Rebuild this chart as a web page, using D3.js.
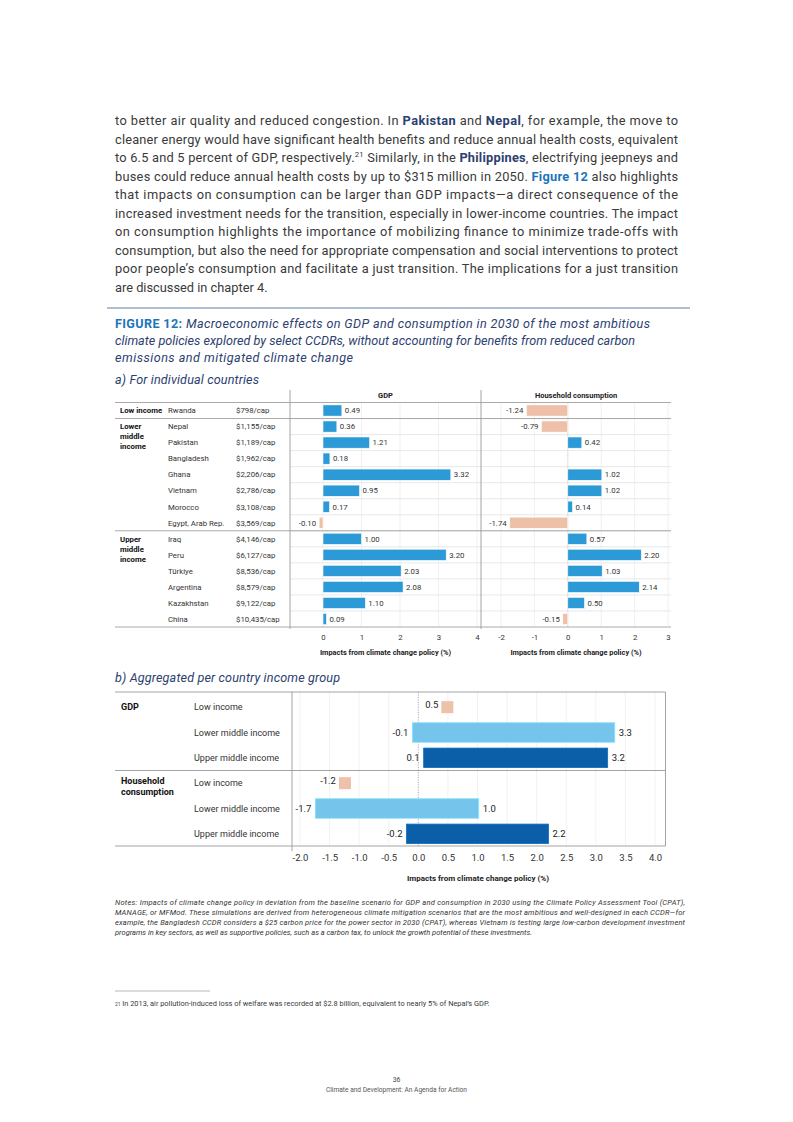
<!DOCTYPE html>
<html>
<head>
<meta charset="utf-8">
<script src="https://cdn.jsdelivr.net/npm/d3@7"></script>
<style>
  body { margin: 0; background: #fff; }
  svg { display: block; }
</style>
</head>
<body>
<script>
// ---- panel a data (per country) ----
const countries = ["Rwanda", "Nepal", "Pakistan", "Bangladesh", "Ghana", "Vietnam", "Morocco",
  "Egypt, Arab Rep.", "Iraq", "Peru", "Türkiye", "Argentina", "Kazakhstan", "China"];
const incomePerCap = ["$798/cap", "$1,155/cap", "$1,189/cap", "$1,962/cap", "$2,206/cap", "$2,786/cap",
  "$3,108/cap", "$3,569/cap", "$4,146/cap", "$6,127/cap", "$8,536/cap", "$8,579/cap", "$9,122/cap", "$10,435/cap"];
const gdpImpact = [0.49, 0.36, 1.21, 0.18, 3.32, 0.95, 0.17, -0.10, 1.00, 3.20, 2.03, 2.08, 1.10, 0.09];
const hhImpact = [-1.24, -0.79, 0.42, null, 1.02, 1.02, 0.14, -1.74, 0.57, 2.20, 1.03, 2.14, 0.50, -0.15];
const groupNames = [["Low income"], ["Lower", "middle", "income"], ["Upper", "middle", "income"]];
const groupStart = [0, 1, 8];
const gdpTicks = [0, 1, 2, 3, 4];
const hhTicks = [-2, -1, 0, 1, 2, 3];

// ---- panel b data (aggregated) ----
const aggGroups = ["Low income", "Lower middle income", "Upper middle income"];
const aggGdpLow = [0.49, -0.10, 0.09];
const aggGdpHigh = [null, 3.32, 3.20];
const aggHhLow = [-1.24, -1.74, -0.2];
const aggHhHigh = [null, 1.02, 2.20];
const aggColors = ["#eec1a9", "#74c4ec", "#0b5fa9"];
const aggTicks = [-2, -1.5, -1, -0.5, 0, 0.5, 1, 1.5, 2, 2.5, 3, 3.5, 4];

const W = 793, H = 1122;
const FONT = "Roboto, 'Open Sans', sans-serif";
const TXT = "#3a3a3a", NAVY = "#2c4170", BLUE = "#1b75bb";

const svg = d3.select("body").append("svg")
  .attr("width", W).attr("height", H)
  .style("font-family", FONT);

// write one line of mixed text; width => justify via textLength
function line(x, y, segs, size, width, anchor) {
  const t = svg.append("text")
    .attr("x", x).attr("y", y)
    .attr("font-size", size)
    .attr("fill", TXT)
    .attr("text-anchor", anchor || "start");
  if (width) t.attr("textLength", width).attr("lengthAdjust", "spacing");
  segs.forEach(s => {
    if (typeof s === "string") s = { t: s };
    const ts = t.append("tspan").text(s.t);
    if (s.b) ts.attr("font-weight", "bold");
    if (s.i) ts.attr("font-style", "italic");
    if (s.c) ts.attr("fill", s.c);
    if (s.sup) ts.attr("font-size", size * 0.6).attr("dy", -5);
    if (s.down) ts.attr("dy", 5);
  });
  return t;
}

// ---- body paragraph ----
const bodyW = 563, bx = 115;
const para = [
  ["to better air quality and reduced congestion. In ", { t: "Pakistan", b: 1, c: NAVY }, " and ", { t: "Nepal", b: 1, c: NAVY }, ", for example, the move to"],
  ["cleaner energy would have significant health benefits and reduce annual health costs, equivalent"],
  ["to 6.5 and 5 percent of GDP, respectively.", { t: "21", sup: 1 }, { t: " Similarly, in the ", down: 1 }, { t: "Philippines", b: 1, c: NAVY }, ", electrifying jeepneys and"],
  ["buses could reduce annual health costs by up to $315 million in 2050. ", { t: "Figure 12", b: 1, c: BLUE }, " also highlights"],
  ["that impacts on consumption can be larger than GDP impacts\u2014a direct consequence of the"],
  ["increased investment needs for the transition, especially in lower-income countries. The impact"],
  ["on consumption highlights the importance of mobilizing finance to minimize trade-offs with"],
  ["consumption, but also the need for appropriate compensation and social interventions to protect"],
  ["poor people\u2019s consumption and facilitate a just transition. The implications for a just transition"],
  ["are discussed in chapter 4."]
];
para.forEach((segs, i) => {
  line(bx, 125 + i * 18.5, segs, 12.8, i < para.length - 1 ? bodyW : null);
});

svg.append("line").attr("x1", 107).attr("x2", 690).attr("y1", 308).attr("y2", 308)
  .attr("stroke", "#5f7fa3").attr("stroke-width", 1);

// ---- figure title ----
line(115, 328, [{ t: "FIGURE 12: ", b: 1, c: BLUE }, { t: "Macroeconomic effects on GDP and consumption in 2030 of the most ambitious", i: 1, c: NAVY }], 12.6, 535);
line(115, 345, [{ t: "climate policies explored by select CCDRs, without accounting for benefits from reduced carbon", i: 1, c: NAVY }], 12.6, 520);
line(115, 362, [{ t: "emissions and mitigated climate change", i: 1, c: NAVY }], 12.6, 238);
line(115, 384, [{ t: "a) For individual countries", i: 1, c: NAVY }], 12.6, 144);

// ================= panel a =================
const yA = d3.scaleBand().domain(d3.range(countries.length)).range([402.5, 627])
  .paddingInner(0.3).paddingOuter(0.15);
const stepA = yA.step();
const rowC = i => yA(i) + yA.bandwidth() / 2;
const xG = d3.scaleLinear().domain([0, 4]).range([323, 477]);
const xH = d3.scaleLinear().domain([-2, 3]).range([501, 668]);
const plotG = [290, 481], plotH = [481, 671];
const topY = 402.5, botY = 627;
const sepY = i => rowC(i) - stepA / 2;

const ga = svg.append("g");

// vertical grid
[[xG, gdpTicks], [xH, hhTicks]].forEach(([sc, ticks]) => {
  ga.selectAll(null).data(ticks).enter().append("line")
    .attr("x1", d => sc(d)).attr("x2", d => sc(d))
    .attr("y1", topY).attr("y2", botY)
    .attr("stroke", "#ececec").attr("stroke-width", 0.8);
});
// row lines inside plots
ga.selectAll(null).data(d3.range(1, countries.length)).enter().append("line")
  .attr("x1", plotG[0]).attr("x2", plotH[1])
  .attr("y1", i => sepY(i)).attr("y2", i => sepY(i))
  .attr("stroke", "#e2e2e2").attr("stroke-width", 0.8);
// zero dotted line (household)
ga.append("line").attr("x1", xH(0)).attr("x2", xH(0)).attr("y1", topY).attr("y2", botY)
  .attr("stroke", "#bbb").attr("stroke-width", 0.7).attr("stroke-dasharray", "1,1.5");

// group separator lines
[topY, sepY(1), sepY(8), botY].forEach(y => {
  ga.append("line").attr("x1", 115).attr("x2", plotH[1]).attr("y1", y).attr("y2", y)
    .attr("stroke", "#a0a0a0").attr("stroke-width", 0.9);
});
// vertical dividers
[plotG[0], plotH[0]].forEach(x => {
  ga.append("line").attr("x1", x).attr("x2", x).attr("y1", 390).attr("y2", botY + 2)
    .attr("stroke", "#9a9a9a").attr("stroke-width", 0.9);
});

// headers
ga.append("text").attr("x", (plotG[0] + plotG[1]) / 2).attr("y", 398).attr("text-anchor", "middle")
  .attr("font-size", 7.5).attr("font-weight", "bold").attr("fill", "#222").text("GDP");
ga.append("text").attr("x", (plotH[0] + plotH[1]) / 2).attr("y", 398).attr("text-anchor", "middle")
  .attr("font-size", 7.5).attr("font-weight", "bold").attr("fill", "#222").text("Household consumption");

// row labels
ga.selectAll(null).data(countries).enter().append("text")
  .attr("x", 168).attr("y", (d, i) => rowC(i) + 2.8)
  .attr("font-size", 7.8).attr("fill", "#333").text(d => d);
ga.selectAll(null).data(incomePerCap).enter().append("text")
  .attr("x", 236).attr("y", (d, i) => rowC(i) + 2.8)
  .attr("font-size", 7.8).attr("fill", "#333").text(d => d);
groupNames.forEach((lines, g) => {
  lines.forEach((t, k) => {
    ga.append("text").attr("x", 120).attr("y", rowC(groupStart[g]) + 2.8 + k * 10)
      .attr("font-size", 7.8).attr("font-weight", "bold").attr("fill", "#111").text(t);
  });
});

// bars
const POS = "#2b9ad7", NEG = "#eec0a8";
function barsA(vals, sc) {
  const rows = vals.map((v, i) => ({ v, i })).filter(d => d.v !== null);
  const bh = yA.bandwidth();
  ga.selectAll(null).data(rows).enter().append("rect")
    .attr("x", d => sc(Math.min(0, d.v)))
    .attr("width", d => Math.abs(sc(d.v) - sc(0)))
    .attr("y", d => yA(d.i)).attr("height", bh)
    .attr("fill", d => d.v < 0 ? NEG : POS)
    .attr("stroke", "#fff").attr("stroke-width", 0.6);
  ga.selectAll(null).data(rows).enter().append("text")
    .attr("x", d => d.v < 0 ? sc(d.v) - 3 : sc(d.v) + 3)
    .attr("y", d => rowC(d.i) + 2.8)
    .attr("text-anchor", d => d.v < 0 ? "end" : "start")
    .attr("font-size", 7.8).attr("fill", "#333")
    .text(d => d.v.toFixed(2));
}
barsA(gdpImpact, xG);
barsA(hhImpact, xH);

// axes
function axisA(sc, ticks, cx) {
  const ax = ga.append("g").attr("transform", `translate(0,${botY + 4})`)
    .call(d3.axisBottom(sc).tickValues(ticks).tickSize(0).tickFormat(d => String(d)));
  ax.select(".domain").remove();
  ax.selectAll("text").attr("font-size", 7.8).attr("fill", "#333").attr("font-family", FONT);
  ga.append("text").attr("x", cx).attr("y", 655).attr("text-anchor", "middle")
    .attr("font-size", 7.4).attr("font-weight", "bold").attr("fill", "#222")
    .text("Impacts from climate change policy (%)");
}
axisA(xG, gdpTicks, (plotG[0] + plotG[1]) / 2);
axisA(xH, hhTicks, (plotH[0] + plotH[1]) / 2);

// ================= panel b =================
line(115, 682, [{ t: "b) Aggregated per country income group", i: 1, c: NAVY }], 12.6, 225);

const gb = svg.append("g");
const xB = d3.scaleLinear().domain([-2, 4]).range([300, 655]);
const yB = d3.scaleBand().domain(d3.range(6)).range([694.5, 846.5]);
const bTop = 692, bBot = 846, bL = 292, bR = 665.5;

gb.selectAll(null).data(aggTicks).enter().append("line")
  .attr("x1", d => xB(d)).attr("x2", d => xB(d)).attr("y1", bTop).attr("y2", bBot)
  .attr("stroke", "#efefef").attr("stroke-width", 0.8);
gb.append("line").attr("x1", xB(0)).attr("x2", xB(0)).attr("y1", bTop).attr("y2", bBot)
  .attr("stroke", "#8f9fbf").attr("stroke-width", 0.8).attr("stroke-dasharray", "1,1.5");

[bTop, yB(3), bBot].forEach(y => {
  gb.append("line").attr("x1", 115).attr("x2", bR).attr("y1", y).attr("y2", y)
    .attr("stroke", "#9a9a9a").attr("stroke-width", 0.9);
});
gb.append("line").attr("x1", bL).attr("x2", bL).attr("y1", bTop).attr("y2", bBot + 5)
  .attr("stroke", "#9a9a9a").attr("stroke-width", 0.9);
gb.append("line").attr("x1", bR).attr("x2", bR).attr("y1", bTop).attr("y2", bBot)
  .attr("stroke", "#9a9a9a").attr("stroke-width", 0.9);

const cB = i => yB(i) + yB.bandwidth() / 2;
gb.append("text").attr("x", 121).attr("y", cB(0) + 3.3).attr("font-size", 9)
  .attr("font-weight", "bold").attr("fill", "#111").text("GDP");
["Household", "consumption"].forEach((t, k) => {
  gb.append("text").attr("x", 121).attr("y", cB(3) + 1 + k * 11).attr("font-size", 9)
    .attr("font-weight", "bold").attr("fill", "#111").text(t);
});

const aggRows = [];
aggGroups.forEach((g, i) => aggRows.push({ row: i, name: g, lo: aggGdpLow[i], hi: aggGdpHigh[i], c: aggColors[i] }));
aggGroups.forEach((g, i) => aggRows.push({ row: i + 3, name: g, lo: aggHhLow[i], hi: aggHhHigh[i], c: aggColors[i] }));

gb.selectAll(null).data(aggRows).enter().append("text")
  .attr("x", 194).attr("y", d => cB(d.row) + 3.3)
  .attr("font-size", 9).attr("fill", "#333").text(d => d.name);

const SQ = 12, BH = 19.5;
const fmtB = v => v.toFixed(1);
aggRows.forEach(d => {
  const cy = cB(d.row);
  if (d.hi === null) {
    gb.append("rect").attr("x", xB(d.lo) - SQ / 2).attr("y", cy - SQ / 2)
      .attr("width", SQ).attr("height", SQ).attr("fill", d.c);
    gb.append("text").attr("x", xB(d.lo) - SQ / 2 - 3).attr("y", cy + 1)
      .attr("text-anchor", "end").attr("font-size", 9.5).attr("fill", "#222").text(fmtB(d.lo));
  } else {
    gb.append("rect").attr("x", xB(d.lo)).attr("y", cy - BH / 2)
      .attr("width", xB(d.hi) - xB(d.lo)).attr("height", BH)
      .attr("fill", d.c).attr("stroke", d3.color(d.c).brighter(0.4)).attr("stroke-width", 0.8);
    gb.append("text").attr("x", xB(d.lo) - 4).attr("y", cy + 3)
      .attr("text-anchor", "end").attr("font-size", 9.5).attr("fill", "#222").text(fmtB(d.lo));
    gb.append("text").attr("x", xB(d.hi) + 4).attr("y", cy + 3.5)
      .attr("font-size", 9.5).attr("fill", "#222").text(fmtB(d.hi));
  }
});

const axB = gb.append("g").attr("transform", `translate(0,${bBot + 5})`)
  .call(d3.axisBottom(xB).tickValues(aggTicks).tickSize(0).tickFormat(d => d.toFixed(1)));
axB.select(".domain").remove();
axB.selectAll("text").attr("font-size", 9.5).attr("fill", "#333").attr("font-family", FONT);
gb.append("text").attr("x", 478).attr("y", 881).attr("text-anchor", "middle")
  .attr("font-size", 8).attr("font-weight", "bold").attr("fill", "#222")
  .text("Impacts from climate change policy (%)");

// ---- notes ----
const notes = [
  "Notes: Impacts of climate change policy in deviation from the baseline scenario for GDP and consumption in 2030 using the Climate Policy Assessment Tool (CPAT),",
  "MANAGE, or MFMod. These simulations are derived from heterogeneous climate mitigation scenarios that are the most ambitious and well-designed in each CCDR\u2014for",
  "example, the Bangladesh CCDR considers a $25 carbon price for the power sector in 2030 (CPAT), whereas Vietnam is testing large low-carbon development investment",
  "programs in key sectors, as well as supportive policies, such as a carbon tax, to unlock the growth potential of these investments."
];
notes.forEach((t, i) => {
  line(115, 905 + i * 10, [{ t, i: 1, c: "#333" }], 7.5, i < 3 ? 570 : null);
});

// ---- footnote ----
svg.append("line").attr("x1", 115).attr("x2", 210).attr("y1", 991).attr("y2", 991)
  .attr("stroke", "#999").attr("stroke-width", 0.7);
line(115, 1008, [{ t: "21" }, " In 2013, air pollution-induced loss of welfare was recorded at $2.8 billion, equivalent to nearly 5% of Nepal\u2019s GDP."], 7.4, null)
  .select("tspan").attr("font-size", 4.8).attr("dy", -2);

// ---- footer ----
svg.append("text").attr("x", 396.5).attr("y", 1082).attr("text-anchor", "middle")
  .attr("font-size", 6.8).attr("fill", "#444").text("36");
svg.append("text").attr("x", 396.5).attr("y", 1092).attr("text-anchor", "middle")
  .attr("font-size", 6.6).attr("fill", "#555").text("Climate and Development: An Agenda for Action");
</script>
</body>
</html>
